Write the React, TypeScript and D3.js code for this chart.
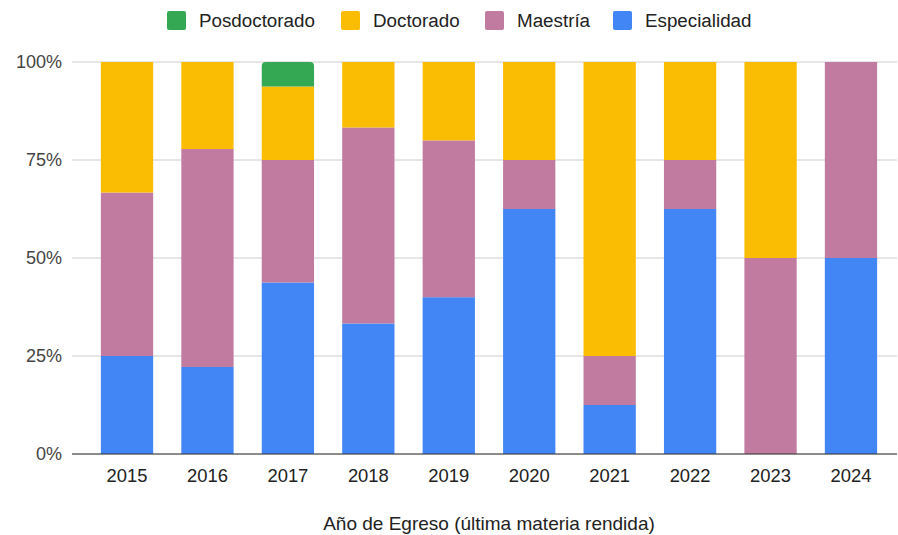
import { useEffect, useRef } from "react";
import * as d3 from "d3";

const years = ["2015", "2016", "2017", "2018", "2019", "2020", "2021", "2022", "2023", "2024"];
// percentages per year, bottom to top
const especialidad = [25, 22.2, 43.75, 33.3, 40, 62.5, 12.5, 62.5, 0, 50];
const maestria = [41.7, 55.6, 31.25, 50, 40, 12.5, 12.5, 12.5, 50, 50];
const doctorado = [33.3, 22.2, 18.75, 16.7, 20, 25, 75, 25, 50, 0];
const posdoctorado = [0, 0, 6.25, 0, 0, 0, 0, 0, 0, 0];

const seriesNames = ["Especialidad", "Maestría", "Doctorado", "Posdoctorado"];
const colors = ["#4285F4", "#C27BA0", "#FBBC04", "#34A853"];
const yTicks = [0, 25, 50, 75, 100];

const W = 898;
const H = 535;
const font = "'Liberation Sans', Arial, sans-serif";

export default function App() {
  const ref = useRef<SVGSVGElement>(null);

  useEffect(() => {
    const svg = d3.select(ref.current);
    svg.selectAll("*").remove();

    const rows = years.map((year, i) => ({
      year,
      Especialidad: especialidad[i],
      "Maestría": maestria[i],
      Doctorado: doctorado[i],
      Posdoctorado: posdoctorado[i],
    }));
    const stacked = d3.stack<any>().keys(seriesNames)(rows);

    const x = d3
      .scaleBand()
      .domain(years)
      .range([86.8, 891.2])
      .paddingInner(0.35)
      .paddingOuter(0.175);
    const y = d3.scaleLinear().domain([0, 100]).range([454, 62]);

    // gridlines
    svg
      .append("g")
      .selectAll("line")
      .data(yTicks)
      .enter()
      .append("line")
      .attr("x1", 72)
      .attr("x2", 897)
      .attr("y1", (d) => y(d))
      .attr("y2", (d) => y(d))
      .attr("stroke", "#cccccc")
      .attr("stroke-width", 1);

    // y labels
    svg
      .append("g")
      .selectAll("text")
      .data(yTicks)
      .enter()
      .append("text")
      .attr("x", 62)
      .attr("y", (d) => y(d))
      .attr("dy", "0.35em")
      .attr("text-anchor", "end")
      .attr("font-family", font)
      .attr("font-size", 18)
      .attr("fill", "#444444")
      .text((d) => `${d}%`);

    // bars
    const r = 4;
    stacked.forEach((layer, si) => {
      const g = svg.append("g").attr("fill", colors[si]);
      layer.forEach((seg, i) => {
        const h = y(seg[0]) - y(seg[1]);
        if (h <= 0) return;
        const x0 = x(years[i])!;
        const bw = x.bandwidth();
        const top = y(seg[1]);
        if (si === 3) {
          const p = d3.path();
          p.moveTo(x0, top + h);
          p.lineTo(x0, top + r);
          p.arcTo(x0, top, x0 + r, top, r);
          p.lineTo(x0 + bw - r, top);
          p.arcTo(x0 + bw, top, x0 + bw, top + r, r);
          p.lineTo(x0 + bw, top + h);
          p.closePath();
          g.append("path").attr("d", p.toString());
        } else {
          g.append("rect")
            .attr("x", x0)
            .attr("y", top)
            .attr("width", bw)
            .attr("height", h);
        }
      });
    });

    // baseline on top
    svg
      .append("line")
      .attr("x1", 72)
      .attr("x2", 897)
      .attr("y1", y(0))
      .attr("y2", y(0))
      .attr("stroke", "#333333");

    // x labels
    svg
      .append("g")
      .selectAll("text")
      .data(years)
      .enter()
      .append("text")
      .attr("x", (d) => x(d)! + x.bandwidth() / 2)
      .attr("y", 482)
      .attr("text-anchor", "middle")
      .attr("font-family", font)
      .attr("font-size", 18.4)
      .attr("fill", "#222222")
      .text((d) => d);

    // axis title
    svg
      .append("text")
      .attr("x", 489)
      .attr("y", 530)
      .attr("text-anchor", "middle")
      .attr("font-family", font)
      .attr("font-size", 19)
      .attr("fill", "#222222")
      .text("Año de Egreso (última materia rendida)");

    // legend
    const legendOrder = [3, 2, 1, 0];
    const legendX = [167, 341, 485, 613];
    legendOrder.forEach((si, k) => {
      const lg = svg.append("g").attr("transform", `translate(${legendX[k]},11)`);
      lg.append("rect")
        .attr("width", 19)
        .attr("height", 19)
        .attr("rx", 2)
        .attr("fill", colors[si]);
      lg.append("text")
        .attr("x", 32)
        .attr("y", 16)
        .attr("font-family", font)
        .attr("font-size", 18.8)
        .attr("fill", "#222222")
        .text(seriesNames[si]);
    });
  }, []);

  return (
    <svg
      ref={ref}
      width={W}
      height={H}
      style={{ position: "absolute", left: 0, top: 0, background: "#ffffff" }}
    />
  );
}
